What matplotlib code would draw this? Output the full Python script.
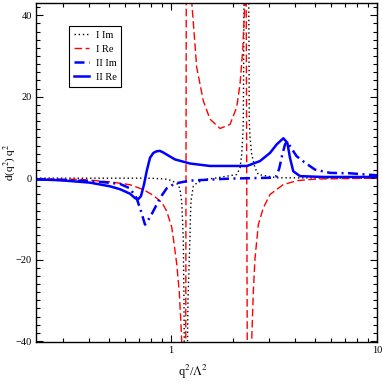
import matplotlib
matplotlib.use("Agg")
import matplotlib.pyplot as plt
from matplotlib.ticker import FixedLocator, MultipleLocator, NullFormatter

plt.rcParams['font.family'] = ['Liberation Serif', 'DejaVu Serif']
plt.rcParams['mathtext.fontset'] = 'stix'

# curve I, imaginary part (black dotted)
x_i_im = [0.221, 0.791, 0.935, 1.011, 1.085, 1.106, 1.127, 1.135, 1.147, 1.156,
          1.167, 1.176, 1.189, 1.209, 1.236, 1.243, 1.250, 1.283, 1.333, 1.462,
          1.635, 2.084, 2.163, 2.203, 2.229, 2.244, 2.262, 2.326, 2.384, 2.399,
          2.419, 2.465, 2.557, 2.654, 3.26, 10.0]
y_i_im = [0.0, 0.0, -0.2, -0.6, -1.6, -2.8, -5.7, -9.0, -14.7, -30.0,
          -60.0, -100.0, -60.0, -30.0, -14.7, -9.0, -5.7, -2.0, -1.2, -0.3,
          0.0, 0.9, 2.5, 5.8, 10.0, 14.0, 45.0, 120.0, 45.0, 14.0,
          10.0, 5.8, 2.5, 0.9, 0.1, 0.0]

# curve I, real part (red dashed)
x_i_re = [0.221, 0.362, 0.506, 0.632, 0.734, 0.806, 0.852, 0.904, 0.953, 1.008,
          1.026, 1.066, 1.097, 1.115, 1.127, 1.176, 1.189, 1.223, 1.260, 1.333,
          1.435, 1.546, 1.730, 1.934, 2.084, 2.163, 2.229, 2.286, 2.312, 2.351,
          2.464, 2.509, 2.557, 2.654, 2.806, 3.024, 3.50, 4.09, 5.11, 10.0]
y_i_re = [-0.2, -0.3, -0.9, -1.6, -2.8, -4.0, -4.9, -6.0, -8.1, -12.0,
          -14.7, -21.0, -28.0, -34.5, -40.0, -80.0, 80.0, 50.0, 43.5, 27.2,
          19.0, 14.5, 12.2, 13.2, 17.4, 23.1, 31.4, 43.7, 60.0, -60.0,
          -40.0, -28.0, -19.7, -11.4, -7.3, -4.0, -1.6, -0.6, -0.2, 0.0]

# curve II, imaginary part (blue dash-dot)
x_ii_im = [0.221, 0.323, 0.452, 0.565, 0.632, 0.681, 0.715, 0.748, 0.791, 0.836,
           0.884, 0.953, 1.046, 1.237, 1.934, 3.024, 3.26, 3.356, 3.47, 3.576,
           3.66, 3.824, 4.07, 4.47, 5.0, 5.91, 7.4, 10.0]
y_ii_im = [-0.3, -0.5, -0.9, -1.4, -2.5, -4.9, -8.1, -11.4, -9.6, -7.3,
           -4.9, -2.5, -1.3, -0.6, -0.1, 0.1, 0.5, 2.5, 5.8, 8.3,
           9.0, 7.5, 5.4, 3.8, 2.1, 1.3, 1.2, 0.7]

# curve II, real part (blue solid)
x_ii_re = [0.221, 0.289, 0.405, 0.506, 0.565, 0.632, 0.669, 0.692, 0.715, 0.740,
           0.762, 0.791, 0.821, 0.852, 0.884, 0.918, 0.953, 1.046, 1.237, 1.546,
           1.934, 2.338, 2.704, 3.024, 3.26, 3.51, 3.67, 3.78, 3.92, 4.23,
           5.47, 10.0]
y_ii_re = [-0.3, -0.5, -1.1, -2.0, -2.7, -3.8, -4.9, -5.2, -4.4, -1.5,
           1.7, 5.0, 6.2, 6.6, 6.7, 6.3, 5.8, 4.6, 3.6, 3.0,
           3.0, 3.0, 4.2, 6.2, 8.3, 9.8, 8.7, 5.0, 1.7, 0.5,
           0.3, 0.3]

fig = plt.figure(figsize=(3.82, 3.82), dpi=100)
ax = fig.add_axes([0.094, 0.105, 0.893, 0.887])

ax.plot(x_i_im, y_i_im, color='black', lw=1.0, ls=(0, (1, 2)), label='I Im')
ax.plot(x_i_re, y_i_re, color='red', lw=1.0, ls=(0, (5.5, 2.5)), label='I Re')
ax.plot(x_ii_im, y_ii_im, color='blue', lw=1.8, ls=(0, (4, 1.8, 0.8, 1.8)), label='II Im')
ax.plot(x_ii_re, y_ii_re, color='blue', lw=1.8, label='II Re')

ax.set_xscale('log')
ax.set_xlim(0.221, 10)
ax.set_ylim(-40.2, 43)

ax.xaxis.set_major_locator(FixedLocator([1, 10]))
ax.xaxis.set_minor_locator(FixedLocator([0.3, 0.4, 0.5, 0.6, 0.7, 0.8, 0.9,
                                         2, 3, 4, 5, 6, 7, 8, 9]))
ax.xaxis.set_minor_formatter(NullFormatter())
ax.set_xticklabels(['1', '10'])
ax.yaxis.set_major_locator(MultipleLocator(20))
ax.yaxis.set_minor_locator(MultipleLocator(2))

ax.tick_params(which='both', direction='in', top=True, right=True, labelsize=7.5, width=0.8)
ax.tick_params(which='major', length=5, pad=3)
ax.tick_params(which='minor', length=3)
for s in ax.spines.values():
    s.set_linewidth(1.0)

ax.set_xlabel(r'q$^2$/$\Lambda^2$', fontsize=9, x=0.46, labelpad=6)
ax.set_ylabel(r'd(q$^2$) q$^2$', fontsize=8)
ax.yaxis.set_label_coords(-0.052, 0.53)

leg = ax.legend(loc='upper left', bbox_to_anchor=(0.097, 0.932), fontsize=7.5,
                handlelength=1.5, handletextpad=0.6, labelspacing=0.45,
                borderpad=0.45, borderaxespad=0, fancybox=False, framealpha=1,
                edgecolor='black')
leg.get_frame().set_linewidth(0.8)

fig.savefig('out.png', dpi=100)
